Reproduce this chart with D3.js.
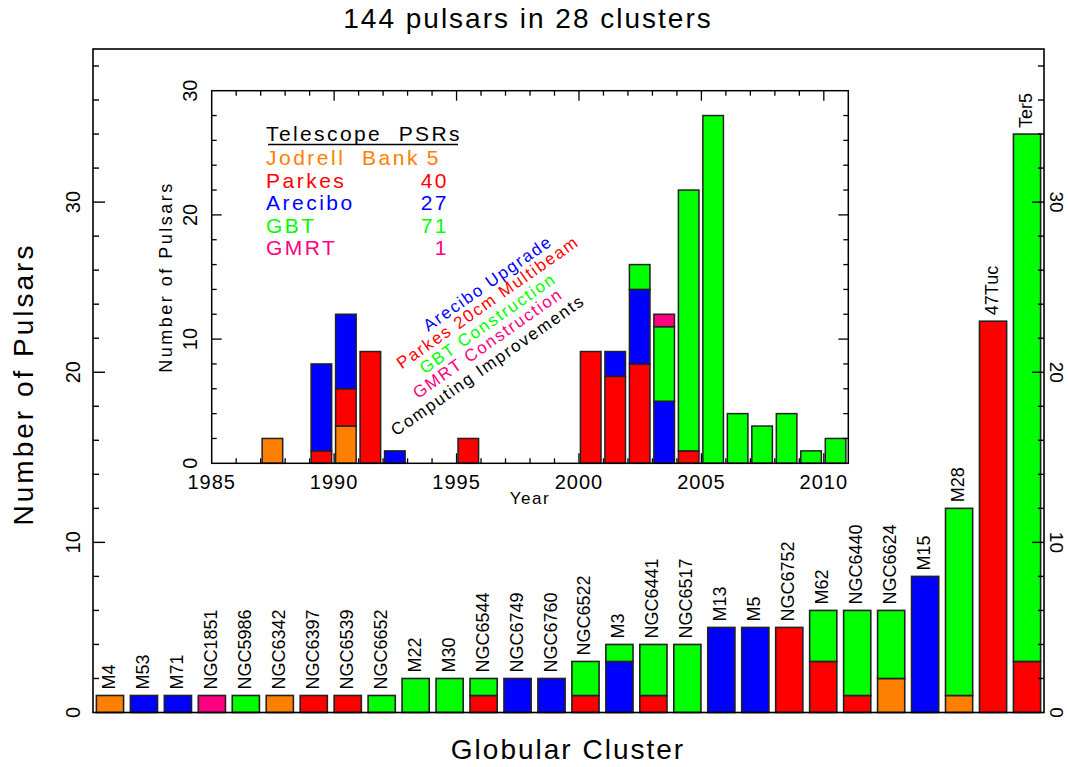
<!DOCTYPE html>
<html lang="en">
<head>
<meta charset="utf-8">
<title>pulsars in globular clusters</title>
<script src="https://d3js.org/d3.v7.min.js"></script>
<style>
  body { margin: 0; background: #fff; }
  text { font-family: "Liberation Sans", Arial, sans-serif; fill: #000; }
</style>
</head>
<body>
<div id="chart"></div>
<script>
// cluster names, left to right
const clusters = ["M4","M53","M71","NGC1851","NGC5986","NGC6342","NGC6397","NGC6539","NGC6652",
  "M22","M30","NGC6544","NGC6749","NGC6760","NGC6522","M3","NGC6441","NGC6517","M13","M5",
  "NGC6752","M62","NGC6440","NGC6624","M15","M28","47Tuc","Ter5"];
// pulsars per cluster found by each telescope
const jodrell = [1,0,0,0,0,1,0,0,0,0,0,0,0,0,0,0,0,0,0,0,0,0,0,2,0,1,0,0];
const parkes  = [0,0,0,0,0,0,1,1,0,0,0,1,0,0,1,0,1,0,0,0,5,3,1,0,0,0,23,3];
const arecibo = [0,1,1,0,0,0,0,0,0,0,0,0,2,2,0,3,0,0,5,5,0,0,0,0,8,0,0,0];
const gbt     = [0,0,0,0,1,0,0,0,1,2,2,1,0,0,2,1,3,4,0,0,0,3,5,4,0,11,0,31];
const gmrt    = [0,0,0,1,0,0,0,0,0,0,0,0,0,0,0,0,0,0,0,0,0,0,0,0,0,0,0,0];

// inset: discoveries per year
const years       = [1987,1989,1990,1991,1992,1995,2000,2001,2002,2003,2004,2005,2006,2007,2008,2009,2010];
const yrJodrell   = [2,0,3,0,0,0,0,0,0,0,0,0,0,0,0,0,0];
const yrParkes    = [0,1,3,9,0,2,9,7,8,0,1,0,0,0,0,0,0];
const yrArecibo   = [0,7,6,0,1,0,0,2,6,5,0,0,0,0,0,0,0];
const yrGbt       = [0,0,0,0,0,0,0,0,2,6,21,28,4,3,4,1,2];
const yrGmrt      = [0,0,0,0,0,0,0,0,0,1,0,0,0,0,0,0,0];

const telescopes = ["Jodrell Bank","Parkes","Arecibo","GBT","GMRT"];
const psrCounts  = [5,40,27,71,1];
const events = ["Arecibo Upgrade","Parkes 20cm Multibeam","GBT Construction","GMRT Construction","Computing Improvements"];

const keys = ["jodrell","parkes","arecibo","gbt","gmrt"];
const colors = {jodrell:"#ff8000", parkes:"#ff0000", arecibo:"#0000ff", gbt:"#00ff00", gmrt:"#ff0080"};
const eventColors = ["#0000ff","#ff0000","#00ff00","#ff0080","#000000"];

const W = 1068, H = 767;
const svg = d3.select("#chart").append("svg")
  .attr("width", W).attr("height", H);
svg.append("rect").attr("width", W).attr("height", H).attr("fill", "#fff");

// ---------- main chart ----------
const m = {left: 93, right: 1044, top: 49, bottom: 712.5};
const x = d3.scaleBand().domain(clusters).range([m.left, m.right]).paddingInner(0.2).paddingOuter(0.1);
const y = d3.scaleLinear().domain([0, 39]).range([m.bottom, m.top]);

const rows = clusters.map((c, i) => ({name: c, jodrell: jodrell[i], parkes: parkes[i],
  arecibo: arecibo[i], gbt: gbt[i], gmrt: gmrt[i]}));
const stacked = d3.stack().keys(keys)(rows);

const barG = svg.append("g");
stacked.forEach(layer => {
  barG.selectAll(null)
    .data(layer.filter(d => d[1] > d[0]))
    .join("rect")
    .attr("x", d => x(d.data.name))
    .attr("width", x.bandwidth())
    .attr("y", d => y(d[1]))
    .attr("height", d => y(d[0]) - y(d[1]))
    .attr("fill", colors[layer.key])
    .attr("stroke", "#222").attr("stroke-width", 1.6);
});

// cluster names above bars
svg.append("g").selectAll("text")
  .data(rows)
  .join("text")
  .attr("transform", d => {
    const tot = keys.reduce((s, k) => s + d[k], 0);
    return `translate(${x(d.name) + x.bandwidth() / 2 + 5},${y(tot) - 6}) rotate(-90)`;
  })
  .attr("font-size", 18)
  .text(d => d.name);

// frame + ticks
svg.append("rect")
  .attr("x", m.left).attr("y", m.top)
  .attr("width", m.right - m.left).attr("height", m.bottom - m.top)
  .attr("fill", "none").attr("stroke", "#000").attr("stroke-width", 1.6);

const yt = d3.range(2, 39, 2);
const tickG = svg.append("g").attr("stroke", "#000").attr("stroke-width", 1.4);
yt.forEach(v => {
  const len = v % 10 === 0 ? 12 : 6;
  tickG.append("line").attr("x1", m.left).attr("x2", m.left + len).attr("y1", y(v)).attr("y2", y(v));
  tickG.append("line").attr("x1", m.right).attr("x2", m.right - len).attr("y1", y(v)).attr("y2", y(v));
});
[0, 10, 20, 30].forEach(v => {
  svg.append("text").attr("transform", `translate(80,${y(v)}) rotate(-90)`)
    .attr("text-anchor", "middle").attr("font-size", 20).text(v);
  svg.append("text").attr("transform", `translate(1050,${y(v)}) rotate(90)`)
    .attr("text-anchor", "middle").attr("font-size", 19).text(v);
});

svg.append("text").attr("x", 528).attr("y", 28).attr("text-anchor", "middle")
  .attr("font-size", 28).attr("letter-spacing", 2).text("144 pulsars in 28 clusters");
svg.append("text").attr("x", 568).attr("y", 759).attr("text-anchor", "middle")
  .attr("font-size", 28).attr("letter-spacing", 2).text("Globular Cluster");
svg.append("text").attr("transform", "translate(33,384) rotate(-90)").attr("text-anchor", "middle")
  .attr("font-size", 28).attr("letter-spacing", 3).text("Number of Pulsars");

// ---------- inset ----------
const n = {left: 211.7, right: 848.3, top: 90.7, bottom: 463.3};
const xi = d3.scaleLinear().domain([1985, 2011]).range([n.left, n.right]);
const yi = d3.scaleLinear().domain([0, 30]).range([n.bottom, n.top]);

svg.append("rect").attr("x", n.left).attr("y", n.top)
  .attr("width", n.right - n.left).attr("height", n.bottom - n.top).attr("fill", "#fff");

const yrRows = years.map((yr, i) => ({year: yr, jodrell: yrJodrell[i], parkes: yrParkes[i],
  arecibo: yrArecibo[i], gbt: yrGbt[i], gmrt: yrGmrt[i]}));
const yrStack = d3.stack().keys(keys)(yrRows);
const insetBars = svg.append("g");
yrStack.forEach(layer => {
  insetBars.selectAll(null)
    .data(layer.filter(d => d[1] > d[0]))
    .join("rect")
    .attr("x", d => xi(d.data.year + 0.06))
    .attr("width", d => xi(d.data.year + 0.9) - xi(d.data.year + 0.06))
    .attr("y", d => yi(d[1]))
    .attr("height", d => yi(d[0]) - yi(d[1]))
    .attr("fill", colors[layer.key])
    .attr("stroke", "#222").attr("stroke-width", 1.5);
});

svg.append("rect").attr("x", n.left).attr("y", n.top)
  .attr("width", n.right - n.left).attr("height", n.bottom - n.top)
  .attr("fill", "none").attr("stroke", "#000").attr("stroke-width", 1.5);

const iTick = svg.append("g").attr("stroke", "#000").attr("stroke-width", 1.3);
d3.range(2, 30, 2).forEach(v => {
  const len = v % 10 === 0 ? 10 : 5;
  iTick.append("line").attr("x1", n.left).attr("x2", n.left + len).attr("y1", yi(v)).attr("y2", yi(v));
  iTick.append("line").attr("x1", n.right).attr("x2", n.right - len).attr("y1", yi(v)).attr("y2", yi(v));
});
d3.range(1986, 2011).forEach(v => {
  const len = v % 5 === 0 ? 10 : 5;
  iTick.append("line").attr("x1", xi(v)).attr("x2", xi(v)).attr("y1", n.bottom).attr("y2", n.bottom - len);
  iTick.append("line").attr("x1", xi(v)).attr("x2", xi(v)).attr("y1", n.top).attr("y2", n.top + len);
});
[0, 10, 20, 30].forEach(v => {
  svg.append("text").attr("transform", `translate(197,${yi(v)}) rotate(-90)`)
    .attr("text-anchor", "middle").attr("font-size", 20).text(v);
});
[1985, 1990, 1995, 2000, 2005, 2010].forEach(v => {
  svg.append("text").attr("x", xi(v)).attr("y", 489).attr("text-anchor", "middle")
    .attr("font-size", 20).attr("letter-spacing", 1).text(v);
});
svg.append("text").attr("x", 530).attr("y", 504).attr("text-anchor", "middle")
  .attr("font-size", 17).attr("letter-spacing", 1.5).text("Year");
svg.append("text").attr("transform", "translate(172,277) rotate(-90)").attr("text-anchor", "middle")
  .attr("font-size", 18).attr("letter-spacing", 2.5).text("Number of Pulsars");

// telescope table
svg.append("text").attr("x", 266).attr("y", 141).attr("font-size", 21)
  .attr("letter-spacing", 2.4).style("white-space", "pre").text("Telescope  PSRs");
svg.append("line").attr("x1", 268).attr("x2", 458).attr("y1", 144.5).attr("y2", 144.5)
  .attr("stroke", "#000").attr("stroke-width", 1.5);
telescopes.forEach((t, i) => {
  const c = colors[keys[i]];
  const yy = 165 + i * 22.5;
  svg.append("text").attr("x", 266).attr("y", yy).attr("font-size", 21)
    .attr("letter-spacing", 2.5).style("fill", c).style("white-space", "pre")
    .text(t === "Jodrell Bank" ? "Jodrell  Bank" : t);
  svg.append("text").attr("x", i === 0 ? 441 : 449).attr("y", yy).attr("font-size", 21)
    .attr("letter-spacing", 2.5).attr("text-anchor", "end").style("fill", c).text(psrCounts[i]);
});

// slanted event notes
const evY = [288, 307, 328, 348, 370];
events.forEach((e, i) => {
  svg.append("text").attr("transform", `translate(491,${evY[i]}) rotate(-35)`)
    .attr("text-anchor", "middle").attr("font-size", 17).attr("letter-spacing", 1.7)
    .style("fill", eventColors[i]).text(e);
});
</script>
</body>
</html>
